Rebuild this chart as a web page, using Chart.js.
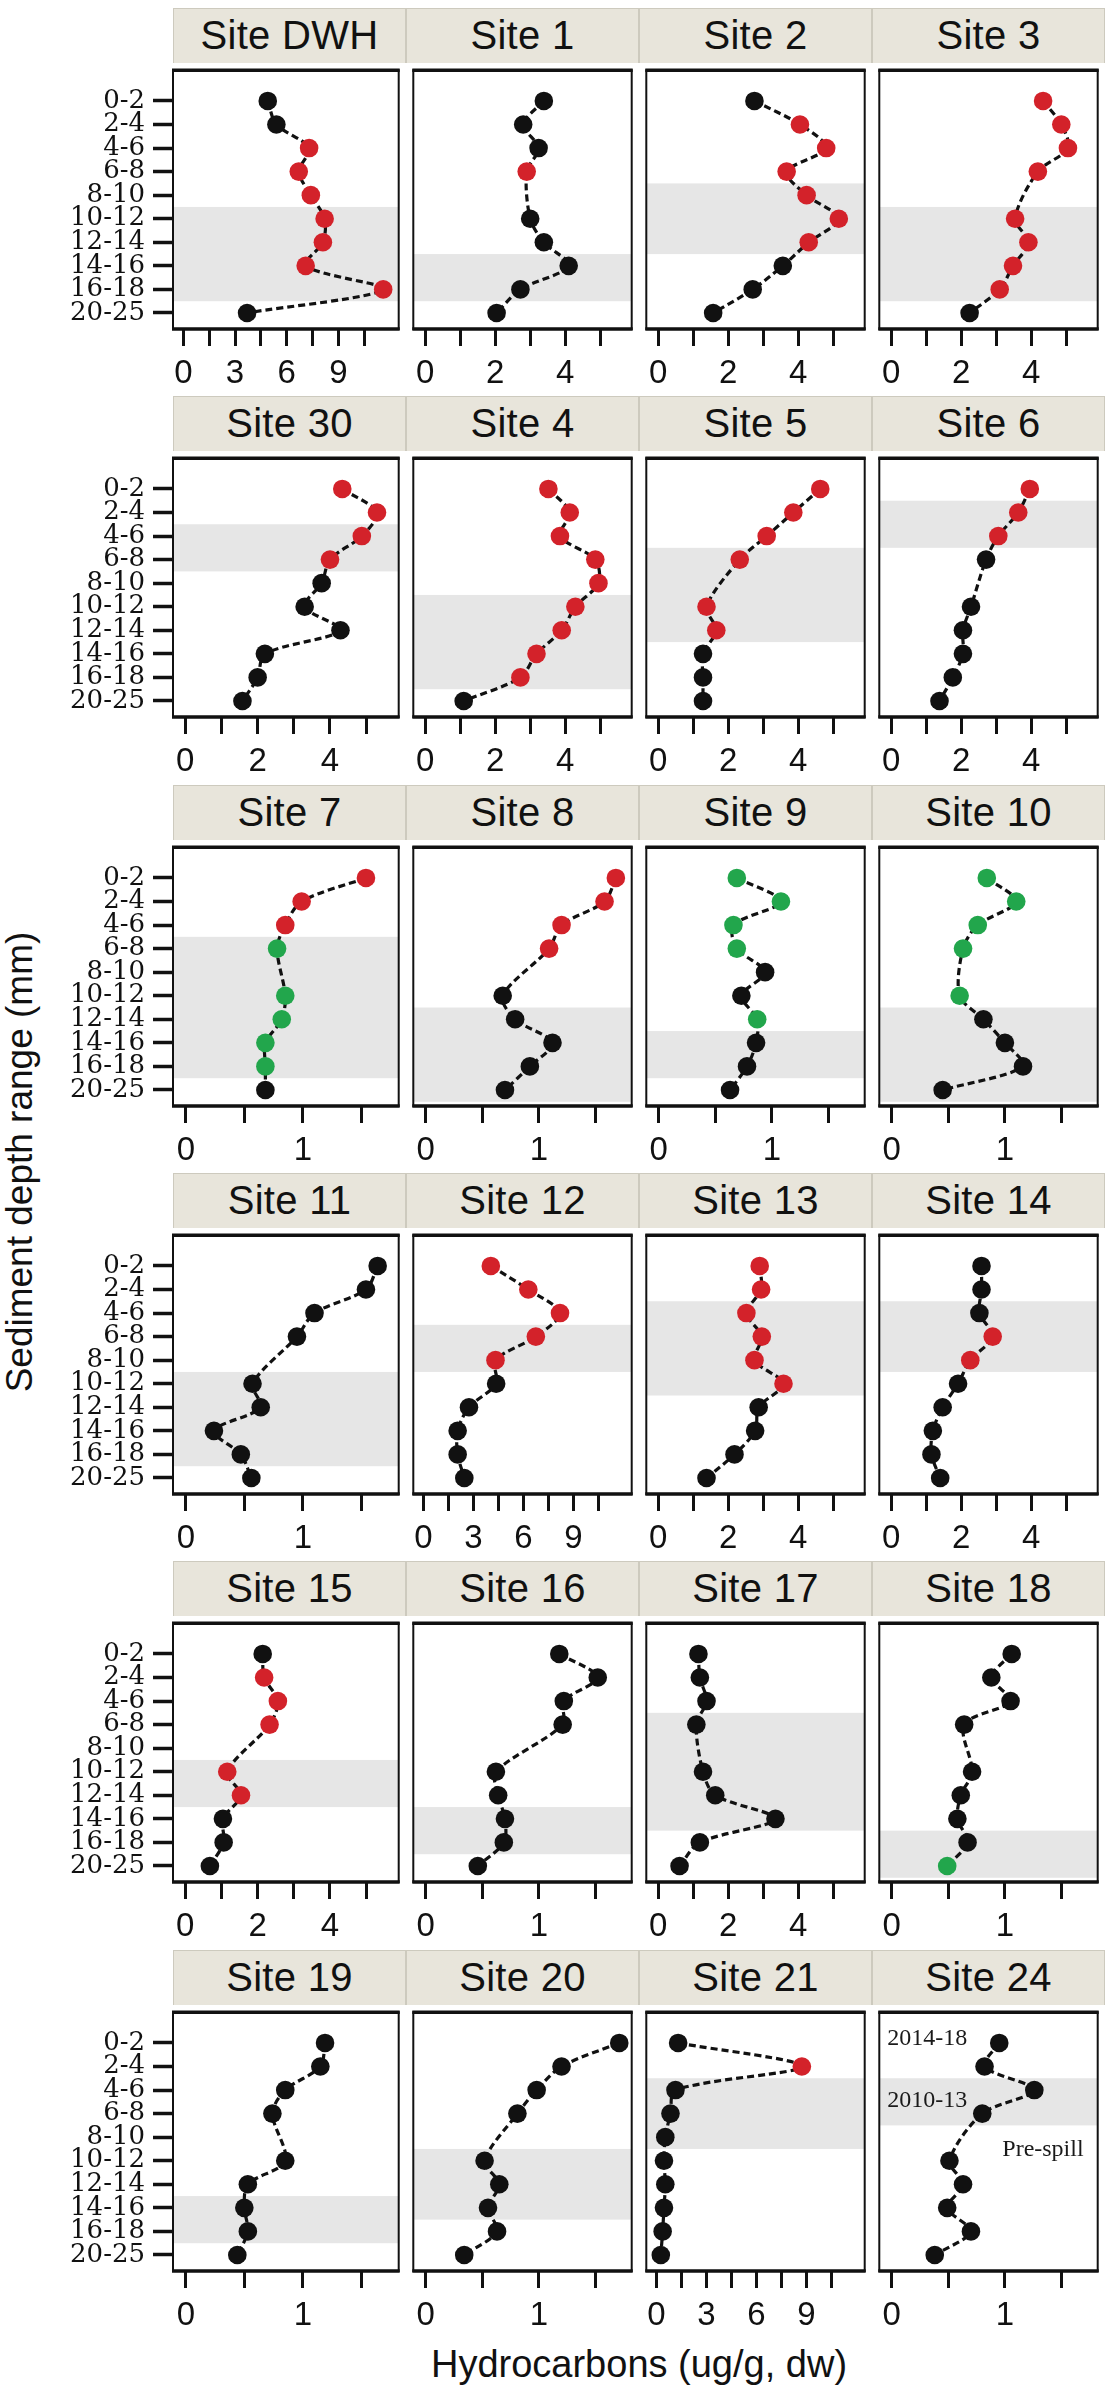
<!DOCTYPE html>
<html>
<head>
<meta charset="utf-8">
<script src="https://cdn.jsdelivr.net/npm/chart.js@4.4.1/dist/chart.umd.min.js"></script>
<style>
  body { margin: 0; background: #fff; width: 1114px; height: 2387px; position: relative; overflow: hidden; }
  canvas { position: absolute; }
  .strip {
    position: absolute; box-sizing: border-box;
    background: #e8e5db; border: 1.5px solid #cdcabe; border-bottom: none;
    font: 40px "Liberation Sans", Arial, sans-serif; letter-spacing: 0.3px;
    text-align: center; color: #111;
  }
  .ytitle, .xtitle { position: absolute; white-space: nowrap; color: #111; font-family: "Liberation Sans", Arial, sans-serif; }
  .ytitle { font-size: 37px; left: 20px; top: 1162px; transform: translate(-50%, -50%) rotate(-90deg); }
  .xtitle { font-size: 38px; left: 639px; top: 2364px; transform: translate(-50%, -50%); }
</style>
</head>
<body>
<div class="ytitle">Sediment depth range (mm)</div>
<div class="xtitle">Hydrocarbons (ug/g, dw)</div>
<script>
// ---------------- data ----------------
const depths = ['0-2', '2-4', '4-6', '6-8', '8-10', '10-12', '12-14', '14-16', '16-18', '20-25'];

// hydrocarbon values per depth (null = no sample)
const siteDWH = [4.9, 5.4, 7.3, 6.7, 7.4, 8.2, 8.1, 7.1, 11.6, 3.7];
const site1 = [3.39, 2.8, 3.24, 2.9, null, 3.0, 3.39, 4.1, 2.72, 2.04];
const site2 = [2.75, 4.05, 4.8, 3.67, 4.24, 5.16, 4.3, 3.56, 2.7, 1.57];
const site3 = [4.34, 4.86, 5.05, 4.19, null, 3.54, 3.92, 3.48, 3.1, 2.24];
const site30 = [4.34, 5.3, 4.88, 4.0, 3.77, 3.3, 4.29, 2.2, 2.0, 1.58];
const site4 = [3.52, 4.13, 3.85, 4.86, 4.95, 4.29, 3.9, 3.18, 2.72, 1.1];
const site5 = [4.63, 3.86, 3.1, 2.33, null, 1.38, 1.66, 1.28, 1.28, 1.28];
const site6 = [3.96, 3.63, 3.06, 2.71, null, 2.28, 2.05, 2.05, 1.76, 1.38];
const site7 = [1.54, 0.99, 0.85, 0.78, null, 0.85, 0.82, 0.68, 0.68, 0.68];
const site8 = [1.68, 1.58, 1.2, 1.09, null, 0.68, 0.79, 1.12, 0.92, 0.70];
const site9 = [0.69, 1.08, 0.66, 0.69, 0.94, 0.73, 0.87, 0.86, 0.78, 0.63];
const site10 = [0.84, 1.1, 0.76, 0.63, null, 0.6, 0.81, 1.0, 1.16, 0.45];
const site11 = [1.64, 1.54, 1.1, 0.95, null, 0.57, 0.64, 0.24, 0.47, 0.56];
const site12 = [4.05, 6.3, 8.2, 6.75, 4.33, 4.37, 2.74, 2.06, 2.06, 2.46];
const site13 = [2.9, 2.94, 2.52, 2.96, 2.75, 3.58, 2.87, 2.77, 2.18, 1.38];
const site14 = [2.58, 2.58, 2.52, 2.9, 2.26, 1.91, 1.47, 1.19, 1.15, 1.4];
const site15 = [2.14, 2.18, 2.56, 2.33, null, 1.16, 1.54, 1.04, 1.06, 0.68];
const site16 = [1.18, 1.52, 1.22, 1.21, null, 0.62, 0.64, 0.70, 0.69, 0.46];
const site17 = [1.15, 1.19, 1.38, 1.09, null, 1.28, 1.63, 3.35, 1.19, 0.61];
const site18 = [1.06, 0.88, 1.05, 0.64, null, 0.71, 0.61, 0.58, 0.67, 0.49];
const site19 = [1.19, 1.15, 0.85, 0.74, null, 0.85, 0.53, 0.50, 0.53, 0.44];
const site20 = [1.71, 1.2, 0.98, 0.81, null, 0.52, 0.65, 0.55, 0.63, 0.34];
const site21 = [1.31, 8.73, 1.15, 0.85, 0.54, 0.46, 0.54, 0.46, 0.38, 0.27];
const site24 = [0.95, 0.82, 1.26, 0.8, null, 0.51, 0.63, 0.49, 0.70, 0.38];

// point class per depth: k = black, r = red, g = green, - = no sample
const siteDWHCls = 'kkrrrrrrrk';
const site1Cls = 'kkkr-kkkkk';
const site2Cls = 'krrrrrrkkk';
const site3Cls = 'rrrr-rrrrk';
const site30Cls = 'rrrrkkkkkk';
const site4Cls = 'rrrrrrrrrk';
const site5Cls = 'rrrr-rrkkk';
const site6Cls = 'rrrk-kkkkk';
const site7Cls = 'rrrg-ggggk';
const site8Cls = 'rrrr-kkkkk';
const site9Cls = 'ggggkkgkkk';
const site10Cls = 'gggg-gkkkk';
const site11Cls = 'kkkk-kkkkk';
const site12Cls = 'rrrrrkkkkk';
const site13Cls = 'rrrrrrkkkk';
const site14Cls = 'kkkrrkkkkk';
const site15Cls = 'krrr-rrkkk';
const site16Cls = 'kkkk-kkkkk';
const site17Cls = 'kkkk-kkkkk';
const site18Cls = 'kkkk-kkkkg';
const site19Cls = 'kkkk-kkkkk';
const site20Cls = 'kkkk-kkkkk';
const site21Cls = 'krkkkkkkkk';
const site24Cls = 'kkkk-kkkkk';

// shaded depth band (first and last depth index)
const bands = [[5, 8], [7, 8], [4, 6], [5, 8],
               [2, 3], [5, 8], [3, 6], [1, 2],
               [3, 8], [6, 9], [7, 8], [6, 9],
               [5, 8], [3, 4], [2, 5], [2, 4],
               [5, 6], [7, 8], [3, 7], [8, 9],
               [7, 8], [5, 7], [2, 4], [2, 3]];

// x axis variants
const axisA = { min: -0.34, max: 5.9, ticks: [0, 1, 2, 3, 4, 5], labels: [0, 2, 4] };
const axisB = { min: -0.11, max: 1.82, ticks: [0, 0.5, 1, 1.5], labels: [0, 1] };
const axisC = { min: -0.6, max: 12.5, ticks: [0, 1.5, 3, 4.5, 6, 7.5, 9, 10.5], labels: [0, 3, 6, 9] };

const panels = [
  ['Site DWH', siteDWH, siteDWHCls, axisC], ['Site 1', site1, site1Cls, axisA],
  ['Site 2', site2, site2Cls, axisA], ['Site 3', site3, site3Cls, axisA],
  ['Site 30', site30, site30Cls, axisA], ['Site 4', site4, site4Cls, axisA],
  ['Site 5', site5, site5Cls, axisA], ['Site 6', site6, site6Cls, axisA],
  ['Site 7', site7, site7Cls, axisB], ['Site 8', site8, site8Cls, axisB],
  ['Site 9', site9, site9Cls, axisB], ['Site 10', site10, site10Cls, axisB],
  ['Site 11', site11, site11Cls, axisB], ['Site 12', site12, site12Cls, axisC],
  ['Site 13', site13, site13Cls, axisA], ['Site 14', site14, site14Cls, axisA],
  ['Site 15', site15, site15Cls, axisA], ['Site 16', site16, site16Cls, axisB],
  ['Site 17', site17, site17Cls, axisA], ['Site 18', site18, site18Cls, axisB],
  ['Site 19', site19, site19Cls, axisB], ['Site 20', site20, site20Cls, axisB],
  ['Site 21', site21, site21Cls, axisC], ['Site 24', site24, site24Cls, axisB]
];

// period notes in the Site 24 panel (depth position)
const notes24 = [['2014-18', -0.2], ['2010-13', 2.45], ['Pre-spill', 4.55]];

// ---------------- layout ----------------
const colLeft = [173, 406, 639, 872];
const colW = 233;
const plotTop0 = 63, rowStep = 388.3, plotH = 266, stripH = 55, axisH = 72, yAxisW = 130;
const clsColor = { k: '#111111', r: '#d3222a', g: '#22a64c' };

const decor = {
  id: 'decor',
  beforeDatasetsDraw(chart, args, opts) {
    const a = chart.chartArea, y = chart.scales.y, ctx = chart.ctx;
    let y1 = Math.max(a.top, y.getPixelForValue(opts.band[0] - 0.5));
    let y2 = Math.min(a.bottom, y.getPixelForValue(opts.band[1] + 0.5));
    ctx.save();
    ctx.fillStyle = '#e6e6e6';
    ctx.fillRect(a.left, y1, a.right - a.left, y2 - y1);
    ctx.restore();
  },
  afterDatasetsDraw(chart, args, opts) {
    const a = chart.chartArea, ctx = chart.ctx;
    ctx.save();
    ctx.strokeStyle = '#111';
    ctx.lineWidth = 2;
    ctx.strokeRect(a.left, a.top, a.right - a.left, a.bottom - a.top);
    ctx.lineWidth = 3.5;
    ctx.beginPath();
    ctx.moveTo(a.left - 1, a.top); ctx.lineTo(a.right + 1, a.top);
    ctx.moveTo(a.left - 1, a.bottom); ctx.lineTo(a.right + 1, a.bottom);
    ctx.stroke();
    if (opts.notes) {
      ctx.fillStyle = '#1a1a1a';
      ctx.font = '24px "Liberation Serif", "Times New Roman", serif';
      ctx.textBaseline = 'middle';
      opts.notes.forEach(function (n, i) {
        const px = i < 2 ? a.left + 8 : a.left + 123;
        ctx.fillText(n[0], px, chart.scales.y.getPixelForValue(n[1]));
      });
    }
    ctx.restore();
  }
};

panels.forEach(function (p, i) {
  const r = Math.floor(i / 4), c = i % 4;
  const plotTop = Math.round(plotTop0 + r * rowStep);

  const strip = document.createElement('div');
  strip.className = 'strip';
  strip.textContent = p[0];
  strip.style.left = colLeft[c] + 'px';
  strip.style.top = (plotTop - stripH) + 'px';
  strip.style.width = colW + 'px';
  strip.style.height = stripH + 'px';
  strip.style.lineHeight = (stripH - 2) + 'px';
  document.body.appendChild(strip);

  const padL = c === 0 ? 0 : 2;
  const cv = document.createElement('canvas');
  const w = (c === 0 ? yAxisW : padL) + colW + 2;
  const h = 2 + plotH + axisH;
  cv.width = w; cv.height = h;
  cv.style.width = w + 'px'; cv.style.height = h + 'px';
  cv.style.left = (colLeft[c] - (c === 0 ? yAxisW : padL)) + 'px';
  cv.style.top = (plotTop - 2) + 'px';
  document.body.appendChild(cv);

  const vals = p[1], cls = p[2], ax = p[3];
  const pts = [], cols = [];
  vals.forEach(function (v, k) {
    if (v === null) return;
    pts.push({ x: v, y: k });
    cols.push(clsColor[cls[k]]);
  });

  new Chart(cv.getContext('2d'), {
    type: 'scatter',
    data: {
      datasets: [{
        data: pts,
        showLine: true,
        borderColor: '#111',
        borderWidth: 3.2,
        borderDash: [7, 4],
        tension: 0.3,
        pointRadius: 9.3,
        pointHoverRadius: 9.3,
        pointBorderWidth: 0,
        pointBackgroundColor: cols
      }]
    },
    options: {
      responsive: false,
      animation: false,
      events: [],
      devicePixelRatio: 1,
      layout: { padding: { left: padL, right: 2, top: 2, bottom: 0 } },
      plugins: {
        legend: { display: false },
        tooltip: { enabled: false },
        decor: { band: bands[i], notes: p[0] === 'Site 24' ? notes24 : null }
      },
      scales: {
        x: {
          type: 'linear',
          min: ax.min, max: ax.max,
          afterBuildTicks: function (s) { s.ticks = ax.ticks.map(function (v) { return { value: v }; }); },
          afterFit: function (s) { s.height = axisH; s.paddingLeft = 0; s.paddingRight = 0; },
          ticks: {
            callback: function (v) { return ax.labels.indexOf(v) >= 0 ? String(v) : ''; },
            font: { family: '"Liberation Sans", Arial, sans-serif', size: 33 },
            color: '#111', padding: 8, maxRotation: 0, autoSkip: false
          },
          grid: { drawOnChartArea: false, tickLength: 17, tickWidth: 3, tickColor: '#111' },
          border: { display: false }
        },
        y: {
          type: 'linear',
          reverse: true,
          min: -1.3, max: 9.68,
          display: c === 0,
          afterBuildTicks: function (s) { s.ticks = depths.map(function (d, k) { return { value: k }; }); },
          afterFit: function (s) {
            s.width = c === 0 ? yAxisW : 0;
            s.paddingTop = 0; s.paddingBottom = 0;
          },
          ticks: {
            callback: function (v) { return depths[v]; },
            font: { family: '"DejaVu Serif", serif', size: 26 },
            color: '#111', padding: 8, autoSkip: false
          },
          grid: { drawOnChartArea: false, tickLength: 20, tickWidth: 3.5, tickColor: '#111' },
          border: { display: false }
        }
      }
    },
    plugins: [decor]
  });
});
</script>
</body>
</html>
